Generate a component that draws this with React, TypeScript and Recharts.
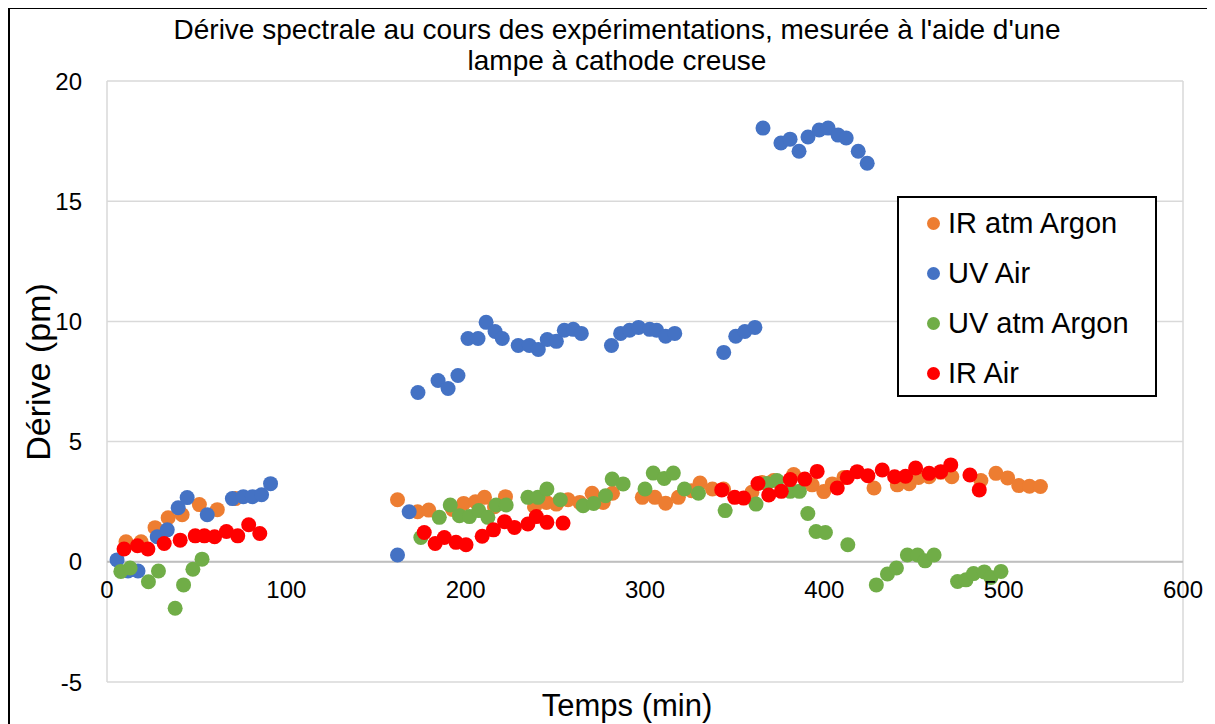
import {
  ScatterChart,
  Scatter,
  XAxis,
  YAxis,
  CartesianGrid,
  ReferenceLine,
  ReferenceDot,
  Legend,
} from 'recharts';

// [temps (min), dérive (pm)]
const irArgon: number[][] = [
  [10.6, 0.83], [19.0, 0.83], [26.8, 1.42], [34.1, 1.83], [41.9, 1.96], [51.5, 2.38], [61.5, 2.17], [71.6, 2.63],
  [162, 2.58], [173.2, 2.08], [179.4, 2.15], [192.7, 2.18], [198.9, 2.43], [205.4, 2.5], [210.5, 2.68], [216.1, 2.29],
  [222.2, 2.71], [238.4, 2.29], [245, 2.47], [250.6, 2.4], [257.1, 2.58], [263.6, 2.47], [270.5, 2.85], [276.7, 2.47],
  [281.9, 2.85], [298.5, 2.68], [305.5, 2.68], [311.5, 2.44], [318.6, 2.68], [326, 2.96], [330.7, 3.28], [337.6, 3.03],
  [343.8, 3.03], [359.6, 2.89], [365.2, 3.3], [371.7, 3.38], [382.9, 3.63], [393.2, 3.2], [399.7, 2.92], [404.4, 3.24],
  [410.9, 3.51], [427.7, 3.07], [440.7, 3.2], [447.3, 3.25], [452.5, 3.51], [458.4, 3.54], [464.9, 3.72], [471.1, 3.54],
  [487.3, 3.38], [495.7, 3.68], [502.2, 3.49], [508.4, 3.17], [514.4, 3.14], [520.5, 3.13],
];

const uvAir: number[][] = [
  [5.6, 0.08], [11.7, -0.38], [17.3, -0.38], [28, 1.04], [33.6, 1.33], [39.7, 2.25], [44.7, 2.67], [55.9, 1.96],
  [69.9, 2.63], [76, 2.71], [81.1, 2.71], [86.2, 2.79], [91.2, 3.25],
  [162, 0.28], [168.5, 2.08], [173.4, 7.04], [184.6, 7.54], [190.2, 7.21], [195.7, 7.75], [201.3, 9.29], [206.9, 9.29],
  [211.4, 9.96], [216.4, 9.58], [220.4, 9.29], [229.3, 9.0], [235.5, 9.0], [240.5, 8.83], [245.5, 9.25], [250.6, 9.17],
  [255, 9.63], [260, 9.67], [264.5, 9.5], [281.3, 9.0], [286.4, 9.5], [291.4, 9.63], [296.4, 9.75], [302.6, 9.67],
  [306.5, 9.63], [311.5, 9.38], [316.6, 9.5], [343.9, 8.71], [350.6, 9.38], [355.7, 9.58], [361.3, 9.75],
  [365.8, 18.04], [375.8, 17.42], [380.9, 17.58], [385.9, 17.08], [390.9, 17.67], [397.1, 17.96], [402.1, 18.04],
  [407.7, 17.75], [412.2, 17.63], [418.9, 17.08], [423.9, 16.58],
];

const uvArgon: number[][] = [
  [7.7, -0.4], [12.9, -0.26], [23.1, -0.83], [28.7, -0.38], [38, -1.93], [42.7, -0.96], [47.9, -0.31], [53, 0.11],
  [175, 1.01], [185.3, 1.85], [191.4, 2.36], [196.5, 1.92], [202.1, 1.88], [207.3, 2.13], [212.4, 1.85], [217, 2.36],
  [222.6, 2.36], [234.7, 2.68], [240.3, 2.68], [245.3, 3.03], [252.8, 2.58], [265.5, 2.33], [271.4, 2.43], [278, 2.75],
  [281.7, 3.44], [287.8, 3.24], [300, 3.03], [304.6, 3.69], [310.7, 3.47], [315.8, 3.69], [322, 3.03], [329.8, 2.85],
  [344.7, 2.13], [361.9, 2.4], [368, 3.26], [373.6, 3.38], [381, 2.93], [386.1, 2.93], [390.8, 2.01], [395.4, 1.26],
  [400.6, 1.22], [413.1, 0.71], [429, -0.96], [435.2, -0.51], [440.2, -0.26], [446.3, 0.28], [452, 0.28], [456.2, 0.04],
  [461.2, 0.28], [474.3, -0.82], [479, -0.75], [483.2, -0.49], [489.2, -0.42], [492.9, -0.65], [498.5, -0.4],
];

const irAir: number[][] = [
  [9.5, 0.53], [17, 0.67], [22.8, 0.53], [31.9, 0.76], [40.8, 0.9], [49.2, 1.08], [54.3, 1.08], [60, 1.04],
  [66.6, 1.26], [72.9, 1.08], [79, 1.54], [85.2, 1.18],
  [176.9, 1.22], [183, 0.76], [188.1, 1.01], [194.6, 0.81], [200.2, 0.71], [209.2, 1.06], [215.5, 1.33], [221.7, 1.67],
  [227.2, 1.43], [234.7, 1.57], [239.4, 1.88], [245.3, 1.64], [254.3, 1.61],
  [342.8, 2.99], [350, 2.68], [355, 2.65], [363, 3.26], [369, 2.78], [376, 2.93], [381, 3.42], [389.1, 3.44],
  [396, 3.76], [407.2, 3.07], [412.8, 3.51], [418.3, 3.75], [424.3, 3.58], [432.3, 3.82], [439.2, 3.54], [445.3, 3.56],
  [450.9, 3.9], [458.4, 3.68], [464.9, 3.75], [470.5, 4.03], [481.2, 3.61], [486.4, 2.99],
];

const xTicks = [0, 100, 200, 300, 400, 500, 600];
const yTicks = [-5, 0, 5, 10, 15, 20];

const series = [
  { name: 'IR atm Argon', color: '#ED7D31', points: irArgon },
  { name: 'UV Air', color: '#4472C4', points: uvAir },
  { name: 'UV atm Argon', color: '#70AD47', points: uvArgon },
  { name: 'IR Air', color: '#FF0000', points: irAir },
];

const FONT = '"Liberation Sans", Arial, sans-serif';

function LegendBox() {
  return (
    <div
      style={{
        width: 260,
        height: 201,
        boxSizing: 'border-box',
        border: '2px solid #000',
        background: '#fff',
        fontFamily: FONT,
        fontSize: 29,
        color: '#000',
      }}
    >
      {series.map((s) => (
        <div key={s.name} style={{ height: 50, display: 'flex', alignItems: 'center' }}>
          <span
            style={{
              display: 'inline-block',
              width: 13,
              height: 13,
              borderRadius: '50%',
              background: s.color,
              marginLeft: 28,
              marginRight: 8,
            }}
          />
          {s.name}
        </div>
      ))}
    </div>
  );
}

export default function App() {
  return (
    <div style={{ borderTop: '2px solid #000', borderLeft: '2px solid #000', marginTop: -1, width: 1205, height: 715, background: '#fff' }}>
      <ScatterChart width={1205} height={715} margin={{ top: 72, right: 32, left: 0, bottom: 0 }}>
        <CartesianGrid stroke="#d9d9d9" strokeWidth={1.5} />
        <XAxis
          type="number"
          dataKey="x"
          domain={[0, 600]}
          ticks={xTicks}
          tick={false}
          tickLine={false}
          axisLine={false}
          height={42}
        />
        <YAxis
          type="number"
          dataKey="y"
          domain={[-5, 20]}
          ticks={yTicks}
          width={97}
          tickLine={false}
          axisLine={false}
          tickSize={0}
          tickMargin={25}
          tick={{ fontSize: 24, fill: '#000', fontFamily: FONT }}
        />
        <ReferenceLine y={0} stroke="#bfbfbf" strokeWidth={2} />
        {xTicks.map((t) => (
          <ReferenceDot
            key={t}
            x={t}
            y={0}
            r={0}
            stroke="none"
            fill="none"
            label={{ value: String(t), position: 'bottom', offset: 19, fontSize: 24, fill: '#000', fontFamily: FONT }}
          />
        ))}
        {series.map((s) => (
          <Scatter
            key={s.name}
            name={s.name}
            data={s.points.map(([x, y]) => ({ x, y }))}
            fill={s.color}
            isAnimationActive={false}
            shape={(p: any) => <circle cx={p.cx} cy={p.cy} r={7.5} fill={s.color} />}
          />
        ))}
        <Legend
          layout="vertical"
          align="center"
          verticalAlign="middle"
          wrapperStyle={{ left: 887, top: 187, width: 260, height: 201 }}
          content={() => <LegendBox />}
        />
        <text x={607} y={30} textAnchor="middle" fontSize={28} fontFamily={FONT} fill="#000">
          Dérive spectrale au cours des expérimentations, mesurée à l'aide d'une
        </text>
        <text x={607} y={61} textAnchor="middle" fontSize={28} fontFamily={FONT} fill="#000">
          lampe à cathode creuse
        </text>
        <text
          x={28}
          y={363}
          textAnchor="middle"
          dy="0.35em"
          fontSize={34}
          fontFamily={FONT}
          fill="#000"
          transform="rotate(-90 28 363)"
        >
          Dérive (pm)
        </text>
        <text x={617} y={707} textAnchor="middle" fontSize={31} fontFamily={FONT} fill="#000">
          Temps (min)
        </text>
      </ScatterChart>
    </div>
  );
}
